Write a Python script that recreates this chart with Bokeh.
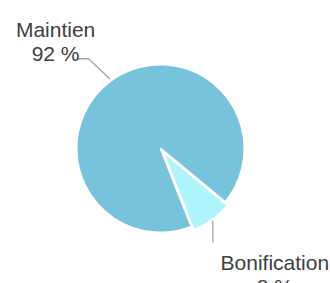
import math
from bokeh.plotting import figure
from bokeh.models import ColumnDataSource
from bokeh.core.properties import value
from bokeh.embed import file_html
from bokeh.resources import INLINE

categories = ["Maintien", "Bonification"]
values = [92, 8]
pct_labels = ["92 %", "8 %"]
colors = ["#77c3db", "#aef5fb"]

W, H = 330, 283
cx, cy, R = 160, 135, 84
start_deg = -39.6
explode = [0, 4]

p = figure(width=W, height=H, x_range=(0, W), y_range=(0, H),
           output_backend="svg", toolbar_location=None, min_border=0)
p.axis.visible = False
p.grid.visible = False
p.outline_line_color = None
p.background_fill_color = "white"

total = sum(values)
starts, ends, mids = [], [], []
a = math.radians(start_deg)
for v in values:
    span = 2 * math.pi * v / total
    starts.append(a)
    ends.append(a + span)
    mids.append(a + span / 2)
    a += span

xs = [cx + e * math.cos(m) for e, m in zip(explode, mids)]
ys = [cy + e * math.sin(m) for e, m in zip(explode, mids)]
src = ColumnDataSource(dict(x=xs, y=ys, s=starts, e=ends, c=colors, cat=categories))
p.wedge(x="x", y="y", radius=R, radius_units="screen", start_angle="s", end_angle="e",
        fill_color="c", line_color="white", line_width=2, source=src)

font = value("Liberation Sans")
lc = "#a3a3a3"
tc = "#404040"

# Maintien connector (goes out to the left)
m = mids[0]
x0 = xs[0] + (R + 2) * math.cos(m); y0 = ys[0] + (R + 2) * math.sin(m)
x1 = xs[0] + 115 * math.cos(math.radians(128.7)); y1 = ys[0] + 115 * math.sin(math.radians(128.7))
p.line([x0, x1, x1 - 11], [y0, y1, y1], line_color=lc, line_width=1.3)
p.text(x=[x1 - 33, x1 - 33], y=[y1 + 29, y1 + 5], text=[categories[0], pct_labels[0]],
       text_font=font, text_font_size="21px", text_color=tc,
       text_align="center", text_baseline="alphabetic")

# Bonification connector (vertical, down)
m = mids[1]
bx = xs[1] + (R + 1) * math.cos(m); by = ys[1] + (R + 1) * math.sin(m)
p.line([bx, bx], [by, by - 22], line_color=lc, line_width=1.3)
p.text(x=[bx + 62, bx + 62], y=[by - 42, by - 66], text=[categories[1], pct_labels[1]],
       text_font=font, text_font_size="21px", text_color=tc,
       text_align="center", text_baseline="alphabetic")

open("out.html", "w").write(file_html(p, INLINE))
